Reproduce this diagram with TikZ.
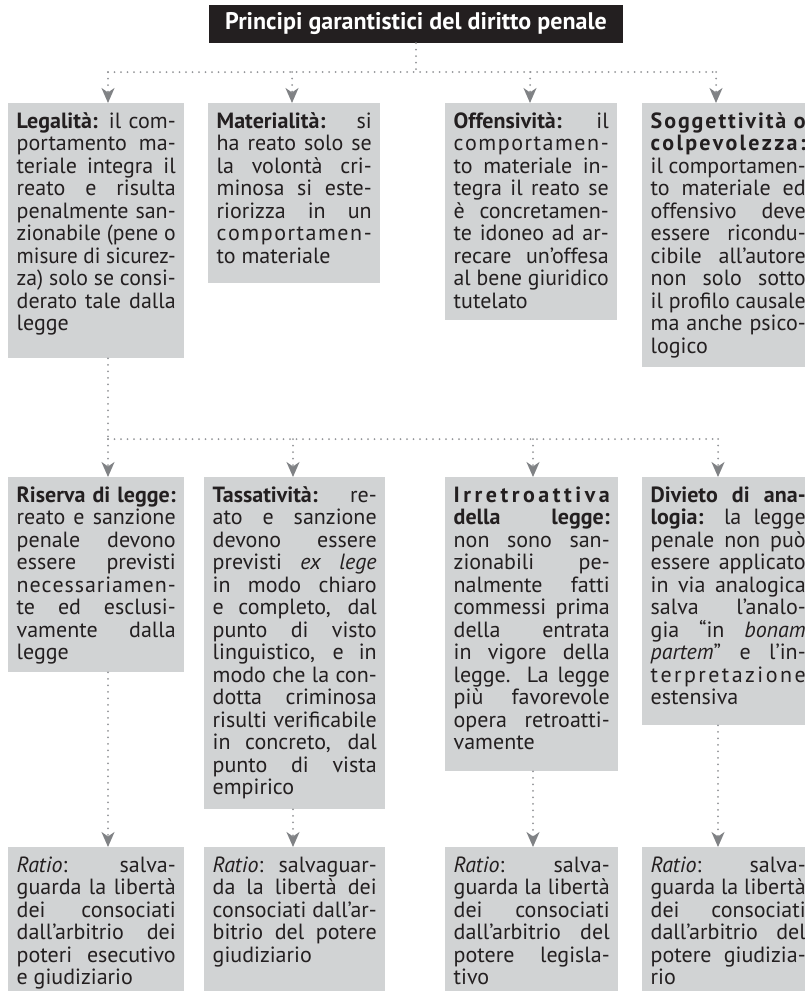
\documentclass[tikz,border=0pt]{standalone}
\usepackage{fontspec}
\setmainfont{PT Sans}
\usetikzlibrary{arrows.meta}
\definecolor{boxgray}{HTML}{D1D3D4}
\definecolor{titlebg}{HTML}{231F20}
\definecolor{linegray}{HTML}{939598}
\definecolor{arrgray}{HTML}{808285}
\definecolor{txt}{HTML}{231F20}
\newcommand\J[1]{\setbox0=\hbox{#1}%
  \ifdim\wd0>\hsize \hbox to\hsize{\resizebox{\hsize}{\height}{\box0}}%
  \else\hbox to\hsize{#1}\fi}
\newcommand\Lt[1]{\hbox to\hsize{#1\hfil}}
\newcommand\bodytext[2]{\vtop{\hsize=#1pt\baselineskip=22.5pt\relax #2}}
\tikzset{
  box/.style={fill=boxgray, anchor=north west, inner xsep=8.5pt, inner ysep=0pt,
    text height=25pt, text=txt, font=\fontsize{22}{22.5}\selectfont},
  titlebox/.style={fill=titlebg, text=white, minimum width=414pt, minimum height=38pt,
    inner sep=0pt, font=\fontsize{24}{26}\selectfont\bfseries},
  dotline/.style={draw=linegray, line width=2pt, dash pattern=on 0pt off 6.5pt, line cap=round},
  arr/.style={dotline, -{Stealth[length=15pt,width=13pt,inset=4.5pt,color=arrgray]}}
}
\begin{document}
\begin{tikzpicture}[x=1pt,y=-1pt]
\useasboundingbox (0,0) rectangle (805,991);

\node[titlebox] (title) at (416,24) {Principi garantistici del diritto penale};

% row 1
\node[box, text depth=230pt] (leg) at (8,103) {\bodytext{159}{%
\J{\textbf{Legalità:} il com-}
\J{portamento ma-}
\J{teriale integra il}
\J{reato e risulta}
\J{penalmente san-}
\J{zionabile (pene o}
\J{misure di sicurez-}
\J{za) solo se consi-}
\J{derato tale dalla}
\Lt{legge}}};

\node[box, text depth=155pt] (mat) at (208,103) {\bodytext{155}{%
\J{\textbf{Materialità:} si}
\J{ha reato solo se}
\J{la volontà cri-}
\J{minosa si este-}
\J{riorizza in un}
\J{c\hfil o\hfil m\hfil p\hfil o\hfil r\hfil t\hfil a\hfil m\hfil e\hfil n\hfil -}
\Lt{to materiale}}};

\node[box, text depth=192pt] (off) at (445,103) {\bodytext{155}{%
\J{\textbf{Offensività:} il}
\J{c\hfil o\hfil m\hfil p\hfil o\hfil r\hfil t\hfil a\hfil m\hfil e\hfil n\hfil -}
\J{to materiale in-}
\J{tegra il reato se}
\J{è concretamen-}
\J{te idoneo ad ar-}
\J{recare un'offesa}
\J{al bene giuridico}
\Lt{tutelato}}};

\node[box, text depth=239pt] (sog) at (642,103) {\bodytext{155}{%
\J{\textbf{S\hfil o\hfil g\hfil g\hfil e\hfil t\hfil t\hfil i\hfil v\hfil i\hfil t\hfil à\ \hfil o}}
\J{\textbf{c\hfil o\hfil l\hfil p\hfil e\hfil v\hfil o\hfil l\hfil e\hfil z\hfil z\hfil a\hfil :}}
\J{il comportamen-}
\J{to materiale ed}
\J{offensivo deve}
\J{essere ricondu-}
\J{cibile all'autore}
\J{non solo sotto}
\J{il profilo causale}
\J{ma anche psico-}
\Lt{logico}}};

% row 2
\node[box, text depth=170pt] (ris) at (8,477) {\bodytext{159}{%
\J{\textbf{Riserva di legge:}}
\J{reato e sanzione}
\J{penale devono}
\J{essere previsti}
\J{n\hfil e\hfil c\hfil e\hfil s\hfil s\hfil a\hfil r\hfil i\hfil a\hfil m\hfil e\hfil n\hfil -}
\J{te ed esclusi-}
\J{vamente dalla}
\Lt{legge}}};

\node[box, text depth=307pt] (tas) at (204,477) {\bodytext{164}{%
\J{\textbf{Tassatività:} re-}
\J{ato e sanzione}
\J{devono essere}
\J{previsti \textit{ex lege}}
\J{in modo chiaro}
\J{e completo, dal}
\J{punto di visto}
\J{linguistico, e in}
\J{modo che la con-}
\J{dotta criminosa}
\J{risulti verificabile}
\J{in concreto, dal}
\J{punto di vista}
\Lt{empirico}}};

\node[box, text depth=269pt] (irr) at (445,477) {\bodytext{156}{%
\J{\textbf{I\hfil r\hfil r\hfil e\hfil t\hfil r\hfil o\hfil a\hfil t\hfil t\hfil i\hfil v\hfil a}}
\J{\textbf{della legge:}}
\J{non sono san-}
\J{zionabili pe-}
\J{nalmente fatti}
\J{commessi prima}
\J{della entrata}
\J{in vigore della}
\J{legge. La legge}
\J{più favorevole}
\J{opera retroatti-}
\Lt{vamente}}};

\node[box, text depth=223pt] (div) at (642,477) {\bodytext{155}{%
\J{\textbf{Divieto di ana-}}
\J{\textbf{logia:} la legge}
\J{penale non può}
\J{essere applicato}
\J{in via analogica}
\J{salva l'analo-}
\J{gia “in \textit{bonam}}
\J{\textit{partem}” e l'in-}
\J{t\hfil e\hfil r\hfil p\hfil r\hfil e\hfil t\hfil a\hfil z\hfil i\hfil o\hfil n\hfil e}
\Lt{estensiva}}};

% row 3
\node[box, text depth=130pt] (ra) at (8,847) {\bodytext{159}{%
\J{\textit{Ratio}: salva-}
\J{guarda la libertà}
\J{dei consociati}
\J{dall'arbitrio dei}
\J{poteri esecutivo}
\Lt{e giudiziario}}};

\node[box, text depth=130pt] (rb) at (204,847) {\bodytext{164}{%
\J{\textit{Ratio}: salvaguar-}
\J{da la libertà dei}
\J{consociati dall'ar-}
\J{bitrio del potere}
\Lt{giudiziario}}};

\node[box, text depth=130pt] (rc) at (445,847) {\bodytext{156}{%
\J{\textit{Ratio}: salva-}
\J{guarda la libertà}
\J{dei consociati}
\J{dall'arbitrio del}
\J{potere legisla-}
\Lt{tivo}}};

\node[box, text depth=130pt] (rd) at (642,847) {\bodytext{155}{%
\J{\textit{Ratio}: salva-}
\J{guarda la libertà}
\J{dei consociati}
\J{dall'arbitrio del}
\J{potere giudizia-}
\Lt{rio}}};

% connectors level 1
\coordinate (ja) at (108,72);
\coordinate (jb) at (292,72);
\coordinate (jc) at (530,72);
\coordinate (jd) at (716,72);
\draw[dotline] (title.south) -- (title.south |- ja);
\draw[dotline] (ja) -- (jd);
\draw[arr] (ja) -- (ja |- leg.north);
\draw[arr] (jb) -- (jb |- mat.north);
\draw[arr] (jc) -- (jc |- off.north);
\draw[arr] (jd) -- (jd |- sog.north);

% connectors level 2
\coordinate (ka) at (108,439);
\coordinate (kb) at (293,439);
\coordinate (kc) at (533,439);
\coordinate (kd) at (718,439);
\draw[dotline] (leg.south -| ka) -- (ka);
\draw[dotline] (ka) -- (kd);
\draw[arr] (ka) -- (ka |- ris.north);
\draw[arr] (kb) -- (kb |- tas.north);
\draw[arr] (kc) -- (kc |- irr.north);
\draw[arr] (kd) -- (kd |- div.north);

% connectors level 3
\draw[arr] (ris.south -| ka) -- (ra.north -| ka);
\draw[arr] (tas.south -| kb) -- (rb.north -| kb);
\draw[arr] (irr.south -| kc) -- (rc.north -| kc);
\draw[arr] (div.south -| kd) -- (rd.north -| kd);
\end{tikzpicture}
\end{document}
